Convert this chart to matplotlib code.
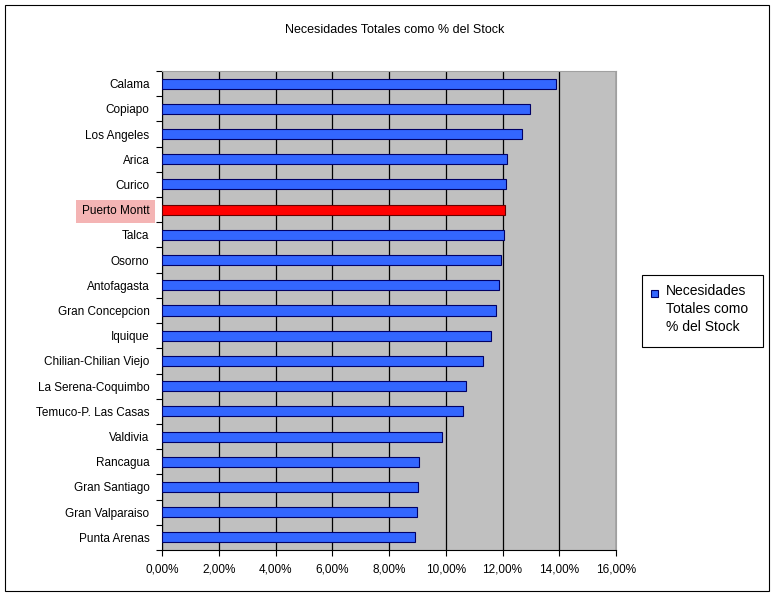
import matplotlib.pyplot as plt
from matplotlib.patches import Rectangle
from matplotlib.ticker import FuncFormatter, FixedLocator
import numpy as np

plt.rcParams['font.family'] = ['Liberation Sans', 'DejaVu Sans']

cities = ['Calama', 'Copiapo', 'Los Angeles', 'Arica', 'Curico', 'Puerto Montt', 'Talca',
          'Osorno', 'Antofagasta', 'Gran Concepcion', 'Iquique', 'Chilian-Chilian Viejo',
          'La Serena-Coquimbo', 'Temuco-P. Las Casas', 'Valdivia', 'Rancagua',
          'Gran Santiago', 'Gran Valparaiso', 'Punta Arenas']
values = [13.90, 12.97, 12.67, 12.17, 12.12, 12.09, 12.04, 11.96, 11.87, 11.78, 11.61,
          11.33, 10.72, 10.62, 9.87, 9.04, 9.03, 9.00, 8.91]
highlight = 'Puerto Montt'
series_name = 'Necesidades\nTotales como\n% del Stock'
title = 'Necesidades Totales como % del Stock'

W, H = 774, 596
fig = plt.figure(figsize=(W / 100, H / 100), dpi=100)
fig.patches.append(Rectangle((0.006, 0.008), 0.988, 0.984, transform=fig.transFigure,
                             fill=False, edgecolor='black', linewidth=0.8))
ax = fig.add_axes([162 / W, 1 - 550 / H, 454 / W, 479 / H])
ax.set_facecolor('#C0C0C0')

y = np.arange(len(cities))
colors = ['#FF0000' if c == highlight else '#3366FF' for c in cities]
edges = ['#660000' if c == highlight else '#000066' for c in cities]
ax.barh(y, values, height=0.4, color=colors, edgecolor=edges, linewidth=0.8, zorder=3)

ax.set_xlim(0, 16)
ax.set_ylim(len(cities) - 0.5, -0.5)
ax.set_xticks(np.arange(0, 17, 2))
ax.xaxis.set_major_formatter(FuncFormatter(lambda v, p: f'{v:.2f}%'.replace('.', ',')))
ax.grid(axis='x', color='black', linewidth=0.9, zorder=1)
ax.set_yticks(y)
ax.set_yticklabels(cities)
ax.yaxis.set_minor_locator(FixedLocator(np.arange(-0.5, len(cities), 1)))
ax.tick_params(axis='y', which='major', length=0, pad=9, labelsize=8.5)
ax.tick_params(axis='y', which='minor', length=4, width=0.8)
ax.tick_params(axis='x', length=4, width=0.8, labelsize=8.5, pad=6)
for s in ['top', 'right']:
    ax.spines[s].set_color('#A0A0A0')
ax.spines['left'].set_color('black')
ax.spines['bottom'].set_color('black')

for lbl in ax.get_yticklabels():
    if lbl.get_text() == highlight:
        lbl.set_bbox(dict(facecolor='#F4B4B4', edgecolor='none', pad=4))

fig.text(395 / W, 1 - 30 / H, title, ha='center', va='center', fontsize=9)

# legend drawn by hand to get Excel-like layout
fig.patches.append(Rectangle((642 / W, 1 - 347 / H), 121 / W, 72 / H, transform=fig.transFigure,
                             facecolor='white', edgecolor='black', linewidth=0.8))
fig.patches.append(Rectangle((651 / W, 1 - 297 / H), 7 / W, 7 / H, transform=fig.transFigure,
                             facecolor='#3366FF', edgecolor='#000066', linewidth=0.8))
fig.text(666 / W, 1 - 284 / H, series_name, ha='left', va='top', fontsize=10,
         linespacing=1.35)

fig.savefig('out.png', dpi=100)
